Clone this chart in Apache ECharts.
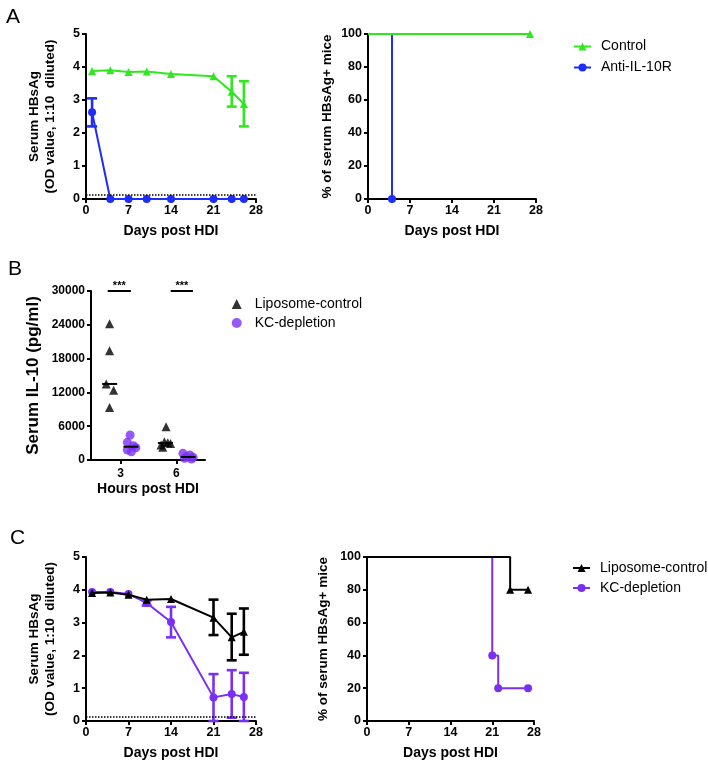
<!DOCTYPE html>
<html><head><meta charset="utf-8">
<script src="https://cdn.jsdelivr.net/npm/echarts@6/dist/echarts.min.js"></script>
<style>html,body{margin:0;padding:0;background:#fff}#c{width:708px;height:764px}</style>
</head><body><div id="c"></div>
<script>
// ---------- Panel A (left): serum HBsAg over time ----------
const daysA = [1, 4, 7, 10, 14, 21, 24, 26];
const controlA = [3.88, 3.90, 3.85, 3.86, 3.79, 3.72, 3.25, 2.88];
const controlAlo = [3.88, 3.90, 3.85, 3.86, 3.79, 3.72, 2.80, 2.20];
const controlAhi = [3.88, 3.90, 3.85, 3.86, 3.79, 3.72, 3.72, 3.57];
const antiA = [2.63, 0, 0, 0, 0, 0, 0, 0];
const antiAlo = [2.20, 0, 0, 0, 0, 0, 0, 0];
const antiAhi = [3.05, 0, 0, 0, 0, 0, 0, 0];
const detectionLimit = 0.12;
// ---------- Panel A (right): % HBsAg+ mice ----------
const survControlT = [0, 27];
const survControlP = [100, 100];
const survAntiT = [0, 4];
const survAntiP = [100, 0];
// ---------- Panel B: serum IL-10 ----------
const lipo3 = [24200, 19400, 13500, 12400, 9300];
const lipo3x = [2.4, 2.4, 2.22, 2.62, 2.4];
const kc3 = [4430, 3130, 2540, 2180, 1770, 1470];
const kc3x = [3.51, 3.36, 3.69, 3.82, 3.36, 3.58];
const lipo6 = [5900, 3250, 3070, 2950, 2660, 2250];
const lipo6x = [5.45, 5.36, 5.54, 5.69, 5.18, 5.27];
const kc6 = [1180, 890, 590, 470, 300, 180];
const kc6x = [6.36, 6.73, 6.55, 6.91, 6.45, 6.82];
const sigX1 = [2.3, 5.7];
const sigX2 = [3.55, 6.9];
const sigY = 30000;
const sigLabel = '***';
// ---------- Panel C (left) ----------
const daysC = [1, 4, 7, 10, 14, 21, 24, 26];
const lipoC = [3.90, 3.92, 3.85, 3.70, 3.72, 3.15, 2.55, 2.72];
const lipoClo = [3.90, 3.92, 3.85, 3.70, 3.72, 2.62, 1.85, 2.02];
const lipoChi = [3.90, 3.92, 3.85, 3.70, 3.72, 3.70, 3.27, 3.43];
const kcC = [3.93, 3.93, 3.87, 3.60, 3.02, 0.72, 0.82, 0.73];
const kcClo = [3.93, 3.93, 3.87, 3.52, 2.55, 0.00, 0.10, 0.00];
const kcChi = [3.93, 3.93, 3.87, 3.68, 3.48, 1.43, 1.55, 1.47];
// ---------- Panel C (right) ----------
const survLipoT = [0, 24, 27];
const survLipoP = [100, 80, 80];
const survKcT = [0, 21, 22, 27];
const survKcP = [100, 40, 20, 20];

const GREEN = '#2fe81f', BLUE = '#1f2dfb', PURPLE = '#7a2ff5', BLACK = '#000';
const FONT = '"Liberation Sans", Arial, sans-serif';

const zip = (a, b) => a.map((v, i) => [v, b[i]]);
const median = arr => { const s = [...arr].sort((a, b) => a - b); const n = s.length; return n % 2 ? s[(n - 1) / 2] : (s[n / 2 - 1] + s[n / 2]) / 2; };
const mean = arr => arr.reduce((a, b) => a + b, 0) / arr.length;

function errSeries(name, xi, yi, xs, lo, hi, color) {
  return {
    type: 'custom', name: name, xAxisIndex: xi, yAxisIndex: yi, silent: true, z: 3,
    data: xs.map((x, i) => [x, lo[i], hi[i]]),
    encode: { x: 0, y: [1, 2] },
    renderItem: function (params, api) {
      const x = api.value(0), l = api.value(1), h = api.value(2);
      if (h - l < 1e-9) return null;
      const a = api.coord([x, l]), b = api.coord([x, h]);
      const w = 5, st = { stroke: color, lineWidth: 2.6 };
      return { type: 'group', children: [
        { type: 'line', shape: { x1: a[0], y1: a[1], x2: b[0], y2: b[1] }, style: st },
        { type: 'line', shape: { x1: a[0] - w, y1: a[1], x2: a[0] + w, y2: a[1] }, style: st },
        { type: 'line', shape: { x1: b[0] - w, y1: b[1], x2: b[0] + w, y2: b[1] }, style: st }
      ]};
    }
  };
}
function medianSeries(name, xi, yi, xs, ys) {
  return {
    type: 'custom', name: name, xAxisIndex: xi, yAxisIndex: yi, silent: true, z: 4,
    data: [[mean(xs), median(ys)]],
    renderItem: function (params, api) {
      const p = api.coord([api.value(0), api.value(1)]);
      return { type: 'line', shape: { x1: p[0] - 7.5, y1: p[1], x2: p[0] + 7.5, y2: p[1] }, style: { stroke: '#000', lineWidth: 2 } };
    }
  };
}
function xAx(gi, min, max, interval, name, extra) {
  return Object.assign({
    type: 'value', gridIndex: gi, min: min, max: max, interval: interval,
    name: name, nameLocation: 'middle', nameGap: 25,
    nameTextStyle: { fontFamily: FONT, fontWeight: 'bold', fontSize: 14, color: '#000' },
    axisLine: { onZero: false, lineStyle: { color: '#000', width: 2 } },
    axisTick: { length: 4, lineStyle: { color: '#000', width: 2 } },
    axisLabel: { fontFamily: FONT, fontWeight: 'bold', fontSize: 12.5, color: '#000', margin: 5 },
    splitLine: { show: false }
  }, extra || {});
}
function yAx(gi, min, max, interval, name, gap, fs, lfs, extra) {
  return Object.assign({
    type: 'value', gridIndex: gi, min: min, max: max, interval: interval,
    name: name, nameLocation: 'middle', nameGap: gap, nameRotate: 90,
    nameTextStyle: { fontFamily: FONT, fontWeight: 'bold', fontSize: fs, color: '#000', lineHeight: fs + 2 },
    axisLine: { onZero: false, lineStyle: { color: '#000', width: 2 } },
    axisTick: { length: 4, lineStyle: { color: '#000', width: 2 } },
    axisLabel: { fontFamily: FONT, fontWeight: 'bold', fontSize: lfs, color: '#000', margin: 6, formatter: v => String(v) },
    splitLine: { show: false }
  }, extra || {});
}
const survSymbol = (sym) => (val) => (val[0] === 0 ? 'none' : sym);

const chart = echarts.init(document.getElementById('c'), null, { renderer: 'canvas' });
const legendText = { fontFamily: FONT, fontSize: 14, color: '#000', padding: [0, 0, 0, 5] };

const option = {
  animation: false,
  backgroundColor: '#fff',
  graphic: [
    { type: 'text', left: 6, top: 7, style: { text: 'A', font: '21px ' + FONT, fill: '#000' } },
    { type: 'text', left: 8, top: 259, style: { text: 'B', font: '21px ' + FONT, fill: '#000' } },
    { type: 'text', left: 10, top: 528, style: { text: 'C', font: '21px ' + FONT, fill: '#000' } }
  ],
  grid: [
    { left: 86, top: 34, width: 170, height: 165 },
    { left: 368, top: 34, width: 168, height: 165 },
    { left: 91, top: 291, width: 114, height: 169 },
    { left: 86, top: 557, width: 170, height: 164 },
    { left: 367, top: 557, width: 167, height: 164 }
  ],
  xAxis: [
    xAx(0, 0, 28, 7, 'Days post HDI'),
    xAx(1, 0, 28, 7, 'Days post HDI'),
    xAx(2, 1.4, 7.55, 1, 'Hours post HDI', {
      nameGap: 22,
      nameTextStyle: { fontFamily: FONT, fontWeight: 'bold', fontSize: 14, color: '#000' },
      axisTick: { length: 4, customValues: [3, 6], lineStyle: { color: '#000', width: 2 } },
      axisLabel: { fontFamily: FONT, fontWeight: 'bold', fontSize: 12, color: '#000', margin: 8, customValues: [3, 6] }
    }),
    xAx(3, 0, 28, 7, 'Days post HDI'),
    xAx(4, 0, 28, 7, 'Days post HDI')
  ],
  yAxis: [
    yAx(0, 0, 5, 1, 'Serum HBsAg\n(OD value, 1:10  diluted)', 28, 13.5, 12.5),
    yAx(1, 0, 100, 20, '% of serum HBsAg+ mice', 33, 13.5, 12.5),
    yAx(2, 0, 30000, 6000, 'Serum IL-10 (pg/ml)', 48, 17, 12),
    yAx(3, 0, 5, 1, 'Serum HBsAg\n(OD value, 1:10  diluted)', 28, 13.5, 12.5),
    yAx(4, 0, 100, 20, '% of serum HBsAg+ mice', 36, 13.5, 12.5)
  ],
  legend: [
    { data: ['Control', 'Anti-IL-10R'], orient: 'vertical', left: 573, top: 39.5, padding: 0,
      itemWidth: 17, itemHeight: 10, itemGap: 7, textStyle: legendText },
    { data: ['Liposome-control', 'KC-depletion'], orient: 'vertical', left: 231.7, top: 297, padding: 0,
      itemWidth: 10, itemHeight: 10, itemGap: 5, textStyle: Object.assign({}, legendText, { padding: [0, 0, 0, 8] }) },
    { data: ['C:Liposome-control', 'C:KC-depletion'], orient: 'vertical', left: 572, top: 561, padding: 0,
      itemWidth: 17, itemHeight: 10, itemGap: 6, textStyle: legendText,
      formatter: n => n.replace(/^C:/, '') }
  ],
  series: [
    // A left
    errSeries('errControlA', 0, 0, daysA, controlAlo, controlAhi, GREEN),
    errSeries('errAntiA', 0, 0, daysA, antiAlo, antiAhi, BLUE),
    { type: 'line', name: 'Control', xAxisIndex: 0, yAxisIndex: 0, data: zip(daysA, controlA),
      symbol: 'triangle', symbolSize: 8, itemStyle: { color: GREEN }, lineStyle: { color: GREEN, width: 2 }, z: 4 },
    { type: 'line', name: 'Anti-IL-10R', xAxisIndex: 0, yAxisIndex: 0, data: zip(daysA, antiA),
      symbol: 'circle', symbolSize: 8, itemStyle: { color: BLUE }, lineStyle: { color: BLUE, width: 2 }, z: 4,
      markLine: { silent: true, symbol: 'none', label: { show: false },
        lineStyle: { color: '#000', type: 'dotted', width: 1.5 }, data: [{ yAxis: detectionLimit }] } },
    // A right
    { type: 'line', name: 'Anti-IL-10R', xAxisIndex: 1, yAxisIndex: 1, data: zip(survAntiT, survAntiP), step: 'end',
      symbol: survSymbol('circle'), symbolSize: 8, itemStyle: { color: BLUE }, lineStyle: { color: BLUE, width: 2 }, z: 3 },
    { type: 'line', name: 'Control', xAxisIndex: 1, yAxisIndex: 1, data: zip(survControlT, survControlP), step: 'end',
      symbol: survSymbol('triangle'), symbolSize: 8, itemStyle: { color: GREEN }, lineStyle: { color: GREEN, width: 2 }, z: 4 },
    // B
    { type: 'scatter', name: 'Liposome-control', xAxisIndex: 2, yAxisIndex: 2,
      data: zip(lipo3x, lipo3).concat(zip(lipo6x, lipo6)), symbol: 'triangle', symbolSize: 9,
      itemStyle: { color: BLACK }, z: 3,
      markLine: { silent: true, symbol: 'none',
        lineStyle: { color: '#000', type: 'solid', width: 2 },
        label: { show: true, position: 'middle', formatter: sigLabel, distance: 0,
          fontFamily: FONT, fontWeight: 'bold', fontSize: 11, color: '#000' },
        data: sigX1.map((x1, i) => [{ coord: [x1, sigY] }, { coord: [sigX2[i], sigY] }]) } },
    { type: 'scatter', name: 'KC-depletion', xAxisIndex: 2, yAxisIndex: 2,
      data: zip(kc3x, kc3).concat(zip(kc6x, kc6)), symbol: 'circle', symbolSize: 9,
      itemStyle: { color: PURPLE }, z: 3 },
    medianSeries('medLipo3', 2, 2, lipo3x, lipo3),
    medianSeries('medKc3', 2, 2, kc3x, kc3),
    medianSeries('medLipo6', 2, 2, lipo6x, lipo6),
    medianSeries('medKc6', 2, 2, kc6x, kc6),
    // C left
    errSeries('errKcC', 3, 3, daysC, kcClo, kcChi, PURPLE),
    errSeries('errLipoC', 3, 3, daysC, lipoClo, lipoChi, BLACK),
    { type: 'line', name: 'C:Liposome-control', xAxisIndex: 3, yAxisIndex: 3, data: zip(daysC, lipoC),
      symbol: 'triangle', symbolSize: 8, itemStyle: { color: BLACK }, lineStyle: { color: BLACK, width: 2 }, z: 5 },
    { type: 'line', name: 'C:KC-depletion', xAxisIndex: 3, yAxisIndex: 3, data: zip(daysC, kcC),
      symbol: 'circle', symbolSize: 8, itemStyle: { color: PURPLE }, lineStyle: { color: PURPLE, width: 2 }, z: 4,
      markLine: { silent: true, symbol: 'none', label: { show: false },
        lineStyle: { color: '#000', type: 'dotted', width: 1.5 }, data: [{ yAxis: detectionLimit }] } },
    // C right
    { type: 'line', name: 'C:KC-depletion', xAxisIndex: 4, yAxisIndex: 4, data: zip(survKcT, survKcP), step: 'end',
      symbol: survSymbol('circle'), symbolSize: 8, itemStyle: { color: PURPLE }, lineStyle: { color: PURPLE, width: 2 }, z: 3 },
    { type: 'line', name: 'C:Liposome-control', xAxisIndex: 4, yAxisIndex: 4, data: zip(survLipoT, survLipoP), step: 'end',
      symbol: survSymbol('triangle'), symbolSize: 8, itemStyle: { color: BLACK }, lineStyle: { color: BLACK, width: 2 }, z: 4 }
  ]
};
chart.setOption(option);
</script>
</body></html>
